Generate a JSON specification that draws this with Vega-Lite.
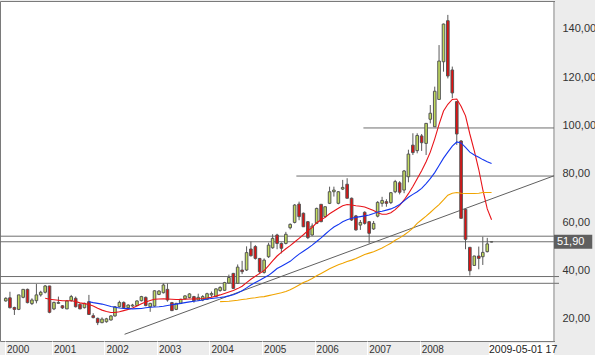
{
"$schema": "https://vega.github.io/schema/vega-lite/v6.json",
"width": 559, "height": 340,
"autosize": {"type": "none"},
"padding": {"left": 0, "top": 1, "right": 36, "bottom": 14},
"background": "#ececec",
"config": {"background": "#ececec", "view": {"fill": "white", "stroke": "#7a7a7a", "strokeWidth": 1}, "font": "Liberation Sans"},
"datasets": {
"k": [
{"d":"2000-02-15","o":27.4,"h":28.9,"l":27.1,"c":28.5},
{"d":"2000-03-15","o":28.7,"h":31.2,"l":24.3,"c":24.6},
{"d":"2000-04-15","o":24.7,"h":25.0,"l":21.6,"c":23.9},
{"d":"2000-05-15","o":23.9,"h":29.9,"l":23.6,"c":29.9},
{"d":"2000-06-15","o":28.9,"h":32.2,"l":28.5,"c":32.2},
{"d":"2000-07-15","o":32.2,"h":32.5,"l":26.4,"c":26.7},
{"d":"2000-08-15","o":26.3,"h":28.5,"l":25.7,"c":27.8},
{"d":"2000-09-15","o":27.5,"h":34.4,"l":26.4,"c":29.9},
{"d":"2000-10-15","o":29.9,"h":31.6,"l":29.2,"c":31.0},
{"d":"2000-11-15","o":31.0,"h":34.0,"l":30.5,"c":33.6,"ma10":28.5},
{"d":"2000-12-15","o":33.6,"h":33.6,"l":22.3,"c":22.7,"ma10":28.1},
{"d":"2001-01-15","o":24.1,"h":27.1,"l":23.6,"c":26.8,"ma10":27.9},
{"d":"2001-02-15","o":26.4,"h":29.2,"l":26.2,"c":26.8,"ma10":27.7},
{"d":"2001-03-15","o":25.4,"h":25.7,"l":24.1,"c":24.5,"ma10":27.5},
{"d":"2001-04-15","o":24.1,"h":27.8,"l":24.1,"c":27.4,"ma10":27.5},
{"d":"2001-05-15","o":27.5,"h":29.9,"l":27.1,"c":29.2,"ma10":27.5},
{"d":"2001-06-15","o":28.5,"h":29.2,"l":24.7,"c":25.0,"ma10":27.2},
{"d":"2001-07-15","o":26.0,"h":26.4,"l":24.1,"c":24.1,"ma10":26.6},
{"d":"2001-08-15","o":24.6,"h":26.7,"l":24.3,"c":26.4,"ma10":26.3},
{"d":"2001-09-15","o":27.1,"h":29.9,"l":21.6,"c":21.8,"ma10":25.9,"ma20":27.1},
{"d":"2001-10-15","o":21.3,"h":22.3,"l":20.2,"c":20.5,"ma10":25.3,"ma20":26.7},
{"d":"2001-11-15","o":20.2,"h":20.5,"l":17.4,"c":18.4,"ma10":24.4,"ma20":26.4},
{"d":"2001-12-15","o":18.4,"h":20.6,"l":18.2,"c":19.9,"ma10":23.6,"ma20":26.1},
{"d":"2002-01-15","o":18.8,"h":20.4,"l":18.4,"c":20.0,"ma10":23.0,"ma20":25.6},
{"d":"2002-02-15","o":19.5,"h":21.5,"l":19.3,"c":21.2,"ma10":22.6,"ma20":25.1},
{"d":"2002-03-15","o":21.2,"h":25.2,"l":20.9,"c":25.0,"ma10":22.6,"ma20":24.8},
{"d":"2002-04-15","o":25.0,"h":27.5,"l":24.7,"c":26.8,"ma10":22.9,"ma20":24.5},
{"d":"2002-05-15","o":26.8,"h":27.2,"l":24.3,"c":24.6,"ma10":23.4,"ma20":24.3},
{"d":"2002-06-15","o":24.6,"h":26.0,"l":24.3,"c":25.7,"ma10":23.9,"ma20":24.2},
{"d":"2002-07-15","o":25.3,"h":26.2,"l":25.0,"c":25.7,"ma10":24.5,"ma20":24.1},
{"d":"2002-08-15","o":25.5,"h":27.6,"l":25.3,"c":27.4,"ma10":25.3,"ma20":24.2},
{"d":"2002-09-15","o":27.5,"h":29.5,"l":27.2,"c":29.2,"ma10":26.2,"ma20":24.3},
{"d":"2002-10-15","o":28.9,"h":29.2,"l":25.2,"c":25.5,"ma10":27.0,"ma20":24.6},
{"d":"2002-11-15","o":25.0,"h":26.6,"l":22.9,"c":26.4,"ma10":27.6,"ma20":24.8},
{"d":"2002-12-15","o":25.3,"h":31.8,"l":25.0,"c":31.6,"ma10":28.1,"ma20":24.9},
{"d":"2003-01-15","o":30.1,"h":31.9,"l":29.8,"c":31.5,"ma10":28.2,"ma20":25.0},
{"d":"2003-02-15","o":30.8,"h":34.7,"l":30.5,"c":34.0,"ma10":28.3,"ma20":25.2},
{"d":"2003-03-15","o":32.2,"h":34.7,"l":27.1,"c":27.8,"ma10":28.2,"ma20":25.5},
{"d":"2003-04-15","o":26.7,"h":27.0,"l":23.2,"c":23.4,"ma10":28.1,"ma20":25.8},
{"d":"2003-05-15","o":23.9,"h":26.6,"l":23.6,"c":26.4,"ma10":28.0,"ma20":26.1},
{"d":"2003-06-15","o":26.4,"h":28.3,"l":26.1,"c":28.1,"ma10":28.0,"ma20":26.4},
{"d":"2003-07-15","o":28.3,"h":29.7,"l":28.0,"c":29.5,"ma10":28.1,"ma20":26.7},
{"d":"2003-08-15","o":28.8,"h":30.6,"l":28.5,"c":30.3,"ma10":28.2,"ma20":27.0},
{"d":"2003-09-15","o":29.2,"h":29.5,"l":26.7,"c":27.5,"ma10":28.2,"ma20":27.3},
{"d":"2003-10-15","o":27.8,"h":30.4,"l":27.5,"c":28.9,"ma10":28.3,"ma20":27.5},
{"d":"2003-11-15","o":27.8,"h":29.8,"l":27.3,"c":29.2,"ma10":28.4,"ma20":27.8},
{"d":"2003-12-15","o":28.1,"h":30.8,"l":27.8,"c":30.4,"ma10":28.6,"ma20":28.2},
{"d":"2004-01-15","o":29.9,"h":31.3,"l":29.0,"c":30.5,"ma10":28.9,"ma20":28.4},
{"d":"2004-02-15","o":29.2,"h":32.6,"l":29.0,"c":32.4,"ma10":29.4,"ma20":28.6},
{"d":"2004-03-15","o":31.7,"h":33.5,"l":31.2,"c":33.0,"ma10":29.9,"ma20":28.8,"ma50":27.1},
{"d":"2004-04-15","o":31.8,"h":35.3,"l":31.5,"c":35.0,"ma10":30.5,"ma20":29.1,"ma50":27.2},
{"d":"2004-05-15","o":34.8,"h":38.3,"l":34.5,"c":37.1,"ma10":31.1,"ma20":29.5,"ma50":27.3},
{"d":"2004-06-15","o":38.8,"h":39.0,"l":32.4,"c":32.6,"ma10":31.7,"ma20":30.0,"ma50":27.5},
{"d":"2004-07-15","o":34.7,"h":42.5,"l":34.5,"c":41.4,"ma10":32.5,"ma20":30.7,"ma50":27.7},
{"d":"2004-08-15","o":40.2,"h":44.0,"l":38.5,"c":39.5,"ma10":33.5,"ma20":31.6,"ma50":28.0},
{"d":"2004-09-15","o":40.2,"h":50.0,"l":39.8,"c":47.4,"ma10":35.0,"ma20":32.8,"ma50":28.2},
{"d":"2004-10-15","o":48.9,"h":52.0,"l":45.8,"c":46.1,"ma10":36.4,"ma20":34.0,"ma50":28.5},
{"d":"2004-11-15","o":49.9,"h":50.5,"l":44.5,"c":45.0,"ma10":37.6,"ma20":35.0,"ma50":28.7},
{"d":"2004-12-15","o":45.0,"h":45.2,"l":38.5,"c":39.5,"ma10":38.8,"ma20":36.0,"ma50":29.0},
{"d":"2005-01-15","o":39.2,"h":45.0,"l":38.7,"c":44.3,"ma10":40.0,"ma20":37.0,"ma50":29.2},
{"d":"2005-02-15","o":45.7,"h":51.5,"l":45.2,"c":50.5,"ma10":42.0,"ma20":38.0,"ma50":29.6},
{"d":"2005-03-15","o":49.4,"h":55.0,"l":49.0,"c":53.3,"ma10":44.0,"ma20":39.3,"ma50":30.0},
{"d":"2005-04-15","o":54.7,"h":55.2,"l":48.8,"c":51.2,"ma10":46.0,"ma20":40.8,"ma50":30.4},
{"d":"2005-05-15","o":51.2,"h":51.6,"l":47.1,"c":49.2,"ma10":47.5,"ma20":41.8,"ma50":30.8},
{"d":"2005-06-15","o":51.2,"h":56.0,"l":50.8,"c":55.0,"ma10":49.0,"ma20":42.8,"ma50":31.3},
{"d":"2005-07-15","o":57.7,"h":59.5,"l":57.0,"c":59.1,"ma10":50.3,"ma20":43.8,"ma50":32.0},
{"d":"2005-08-15","o":59.9,"h":67.5,"l":59.5,"c":67.1,"ma10":51.8,"ma20":45.3,"ma50":33.0},
{"d":"2005-09-15","o":67.5,"h":68.5,"l":60.8,"c":62.3,"ma10":53.3,"ma20":46.8,"ma50":34.0},
{"d":"2005-10-15","o":63.7,"h":64.0,"l":58.0,"c":58.1,"ma10":54.8,"ma20":48.0,"ma50":35.0},
{"d":"2005-11-15","o":60.2,"h":60.5,"l":53.0,"c":53.6,"ma10":56.5,"ma20":49.2,"ma50":35.8},
{"d":"2005-12-15","o":54.7,"h":59.5,"l":54.4,"c":58.4,"ma10":57.8,"ma20":50.5,"ma50":36.7},
{"d":"2006-01-15","o":59.5,"h":66.0,"l":59.2,"c":65.7,"ma10":59.8,"ma20":52.0,"ma50":37.8},
{"d":"2006-02-15","o":67.4,"h":67.4,"l":60.0,"c":60.2,"ma10":61.0,"ma20":53.5,"ma50":38.8},
{"d":"2006-03-15","o":62.3,"h":66.4,"l":61.9,"c":66.4,"ma10":62.0,"ma20":55.0,"ma50":39.7},
{"d":"2006-04-15","o":67.8,"h":74.7,"l":67.5,"c":72.6,"ma10":63.5,"ma20":56.6,"ma50":40.7},
{"d":"2006-05-15","o":72.6,"h":74.7,"l":70.6,"c":73.3,"ma10":64.6,"ma20":58.0,"ma50":41.6},
{"d":"2006-06-15","o":67.8,"h":72.9,"l":67.4,"c":72.6,"ma10":65.8,"ma20":59.0,"ma50":42.4},
{"d":"2006-07-15","o":73.7,"h":77.5,"l":73.3,"c":74.4,"ma10":66.8,"ma20":60.2,"ma50":43.0},
{"d":"2006-08-15","o":75.7,"h":78.2,"l":69.9,"c":69.9,"ma10":67.3,"ma20":61.0,"ma50":43.7},
{"d":"2006-09-15","o":69.9,"h":70.2,"l":60.5,"c":60.9,"ma10":67.1,"ma20":61.6,"ma50":44.3},
{"d":"2006-10-15","o":62.6,"h":63.0,"l":56.5,"c":56.8,"ma10":66.8,"ma20":62.0,"ma50":45.0},
{"d":"2006-11-15","o":58.8,"h":60.9,"l":56.8,"c":59.9,"ma10":66.6,"ma20":62.3,"ma50":45.8},
{"d":"2006-12-15","o":64.1,"h":64.5,"l":59.0,"c":59.5,"ma10":66.3,"ma20":62.6,"ma50":46.6},
{"d":"2007-01-15","o":60.2,"h":60.5,"l":51.2,"c":55.4,"ma10":65.6,"ma20":63.0,"ma50":47.2},
{"d":"2007-02-15","o":57.2,"h":60.5,"l":56.8,"c":59.5,"ma10":64.8,"ma20":63.6,"ma50":47.8},
{"d":"2007-03-15","o":62.5,"h":68.7,"l":62.0,"c":68.2,"ma10":63.9,"ma20":64.2,"ma50":48.5},
{"d":"2007-04-15","o":67.8,"h":70.5,"l":66.4,"c":69.0,"ma10":63.3,"ma20":64.5,"ma50":49.3},
{"d":"2007-05-15","o":68.5,"h":69.5,"l":66.4,"c":67.8,"ma10":63.3,"ma20":65.0,"ma50":50.3},
{"d":"2007-06-15","o":68.1,"h":72.5,"l":67.5,"c":72.2,"ma10":63.9,"ma20":65.5,"ma50":51.3},
{"d":"2007-07-15","o":72.6,"h":77.5,"l":72.0,"c":76.8,"ma10":65.2,"ma20":66.3,"ma50":52.5},
{"d":"2007-08-15","o":76.3,"h":77.0,"l":71.5,"c":72.4,"ma10":67.0,"ma20":67.3,"ma50":53.5},
{"d":"2007-09-15","o":73.3,"h":81.6,"l":72.0,"c":81.2,"ma10":69.2,"ma20":68.8,"ma50":54.7},
{"d":"2007-10-15","o":78.8,"h":90.0,"l":76.5,"c":88.2,"ma10":71.8,"ma20":70.3,"ma50":56.0},
{"d":"2007-11-15","o":91.9,"h":96.8,"l":87.8,"c":88.8,"ma10":74.8,"ma20":71.5,"ma50":57.5},
{"d":"2007-12-15","o":89.6,"h":96.8,"l":88.5,"c":95.9,"ma10":78.0,"ma20":72.6,"ma50":59.5},
{"d":"2008-01-15","o":95.7,"h":96.5,"l":89.5,"c":92.9,"ma10":81.3,"ma20":74.0,"ma50":61.0},
{"d":"2008-02-15","o":92.6,"h":101.0,"l":87.8,"c":100.9,"ma10":85.0,"ma20":76.0,"ma50":62.5},
{"d":"2008-03-15","o":102.6,"h":108.5,"l":100.9,"c":105.1,"ma10":89.0,"ma20":78.0,"ma50":64.0},
{"d":"2008-04-15","o":99.5,"h":116.1,"l":99.5,"c":114.2,"ma10":94.5,"ma20":80.5,"ma50":65.7},
{"d":"2008-05-15","o":110.8,"h":133.3,"l":110.6,"c":126.7,"ma10":100.5,"ma20":83.5,"ma50":67.3},
{"d":"2008-06-15","o":126.4,"h":142.2,"l":122.3,"c":142.0,"ma10":106.0,"ma20":86.5,"ma50":69.2},
{"d":"2008-07-15","o":143.4,"h":145.8,"l":119.5,"c":120.5,"ma10":108.8,"ma20":89.0,"ma50":71.2},
{"d":"2008-08-15","o":123.0,"h":124.4,"l":111.3,"c":113.5,"ma10":110.8,"ma20":91.5,"ma50":72.0},
{"d":"2008-09-15","o":109.9,"h":110.0,"l":92.0,"c":96.5,"ma10":111.0,"ma20":93.2,"ma50":72.3},
{"d":"2008-10-15","o":93.6,"h":94.0,"l":61.6,"c":61.6,"ma10":108.0,"ma20":92.8,"ma50":72.0},
{"d":"2008-11-15","o":65.3,"h":65.3,"l":48.8,"c":52.9,"ma10":104.0,"ma20":91.0,"ma50":71.9},
{"d":"2008-12-15","o":49.6,"h":49.6,"l":37.9,"c":39.9,"ma10":96.5,"ma20":89.0,"ma50":71.9},
{"d":"2009-01-15","o":42.1,"h":46.1,"l":41.9,"c":46.0,"ma10":89.5,"ma20":87.8,"ma50":71.9},
{"d":"2009-02-15","o":46.0,"h":49.9,"l":40.5,"c":45.0,"ma10":81.8,"ma20":86.9,"ma50":72.0},
{"d":"2009-03-15","o":45.7,"h":54.0,"l":42.3,"c":47.5,"ma10":73.5,"ma20":85.9,"ma50":72.3},
{"d":"2009-04-15","o":47.8,"h":53.5,"l":47.5,"c":51.0,"ma10":65.5,"ma20":85.0,"ma50":72.3},
{"d":"2009-05-15","o":51.8,"h":52.0,"l":51.7,"c":51.9,"ma10":61.0,"ma20":84.3,"ma50":72.3}
],
"full": [{"v":54.2},{"v":51.9},{"v":37.5},{"v":34.7}],
"part": [{"a":"2006-12-06","b":"2010-07-23","v":99.0},{"a":"2005-08-27","b":"2010-07-23","v":79.1}],
"trend": [{"d":"2002-05-21","v":13.6},{"d":"2010-07-23","v":79.2}]
},
"layer": [
{"data": {"values": [{}]},
 "mark": {"type": "rect", "fill": "#ececec", "clip": false},
 "encoding": {"x": {"datum": {"year": 2010, "month": 7, "date": 30, "utc": true}, "type": "temporal"},
   "x2": {"datum": {"year": 2011, "month": 4, "date": 15, "utc": true}},
   "y": {"datum": 5, "type": "quantitative"}, "y2": {"datum": 152}}},
{"data": {"values": [{}]},
 "mark": {"type": "rect", "fill": "#ececec", "clip": false},
 "encoding": {"x": {"datum": {"year": 2000, "month": 1, "date": 20, "utc": true}, "type": "temporal"},
   "x2": {"datum": {"year": 2011, "month": 4, "date": 15, "utc": true}},
   "y": {"datum": 10.4, "type": "quantitative"}, "y2": {"datum": 4.9}}},
{"data": {"name": "full"},
 "mark": {"type": "rule", "color": "#6e6e6e", "strokeWidth": 1},
 "encoding": {"y": {"field": "v", "type": "quantitative",
   "scale": {"domain": [10.82, 151.55], "nice": false, "zero": false},
   "axis": {"orient": "right", "values": [20,40,60,80,100,120,140], "zindex": 1,
     "labelExpr": "replace(format(datum.value, '.2f'), '.', ',')",
     "title": null, "domain": false, "grid": false, "ticks": false,
     "labelFont": "Liberation Sans", "labelFontSize": 11, "labelColor": "#333333",
     "labelPadding": 3, "labelOverlap": false, "labelFlush": false, "labelBaseline": "middle"}}}},
{"data": {"values": [{}]},
 "mark": {"type": "rule", "color": "#7a7a7a", "strokeWidth": 1},
 "encoding": {"x": {"datum": {"year": 2010, "month": 7, "date": 23, "utc": true}, "type": "temporal"}}},
{"data": {"name": "part"},
 "mark": {"type": "rule", "color": "#6e6e6e", "strokeWidth": 1},
 "encoding": {"x": {"field": "a", "type": "temporal"}, "x2": {"field": "b"},
   "y": {"field": "v", "type": "quantitative"}}},
{"data": {"name": "trend"},
 "mark": {"type": "line", "color": "#606060", "strokeWidth": 1},
 "encoding": {"x": {"field": "d", "type": "temporal"},
   "y": {"field": "v", "type": "quantitative"}}},
{"data": {"name": "k"},
 "mark": {"type": "rule", "color": "#5a5a5a", "strokeWidth": 1},
 "encoding": {"x": {"field": "d", "type": "temporal",
   "scale": {"type": "utc", "domain": [{"year": 2000, "month": 2, "date": 9, "hours": 16, "utc": true}, {"year": 2010, "month": 7, "date": 23, "utc": true}]},
   "axis": {"values": [{"year": 2000, "month": 2, "date": 10, "utc": true}, {"year": 2001, "month": 1, "date": 1, "utc": true}, {"year": 2002, "month": 1, "date": 1, "utc": true}, {"year": 2003, "month": 1, "date": 1, "utc": true}, {"year": 2004, "month": 1, "date": 1, "utc": true}, {"year": 2005, "month": 1, "date": 1, "utc": true}, {"year": 2006, "month": 1, "date": 1, "utc": true}, {"year": 2007, "month": 1, "date": 1, "utc": true}, {"year": 2008, "month": 1, "date": 1, "utc": true}],
     "labelExpr": "utcFormat(datum.value, '%Y')", "zindex": 1,
     "title": null, "domain": false, "grid": false,
     "tickColor": "#ffffff", "tickSize": 14, "tickWidth": 1,
     "labelAlign": "left", "labelBaseline": "top", "labelPadding": -11, "labelOffset": 1.5,
     "labelFont": "Liberation Sans", "labelFontSize": 10, "labelColor": "#333333",
     "labelFlush": false, "labelOverlap": false}},
   "y": {"field": "l", "type": "quantitative"}, "y2": {"field": "h"}}},
{"data": {"name": "k"},
 "mark": {"type": "bar", "width": 2.6, "stroke": "#555555", "strokeWidth": 1},
 "encoding": {"x": {"field": "d", "type": "temporal"},
   "y": {"field": "o", "type": "quantitative"}, "y2": {"field": "c"},
   "fill": {"condition": {"test": "datum.c >= datum.o", "value": "#c2dc5e"}, "value": "#e01010"}}},
{"data": {"name": "k"},
 "mark": {"type": "line", "color": "#e8141a", "strokeWidth": 1.1},
 "encoding": {"x": {"field": "d", "type": "temporal"},
   "y": {"field": "ma10", "type": "quantitative"}}},
{"data": {"name": "k"},
 "mark": {"type": "line", "color": "#1438f0", "strokeWidth": 1.1},
 "encoding": {"x": {"field": "d", "type": "temporal"},
   "y": {"field": "ma20", "type": "quantitative"}}},
{"data": {"name": "k"},
 "mark": {"type": "line", "color": "#f0a400", "strokeWidth": 1.1},
 "encoding": {"x": {"field": "d", "type": "temporal"},
   "y": {"field": "ma50", "type": "quantitative"}}},
{"data": {"values": [{}]},
 "mark": {"type": "rect", "fill": "#ffffff"},
 "encoding": {"x": {"datum": {"year": 2009, "month": 4, "date": 26, "utc": true}, "type": "temporal"},
   "x2": {"datum": {"year": 2010, "month": 7, "date": 23, "utc": true}},
   "y": {"datum": 9.9, "type": "quantitative"}, "y2": {"datum": 4.9}}},
{"data": {"values": [{}]},
 "mark": {"type": "text", "align": "left", "baseline": "middle", "font": "Liberation Sans", "fontSize": 10.5, "color": "#222222"},
 "encoding": {"x": {"datum": {"year": 2009, "month": 4, "date": 27, "utc": true}, "type": "temporal"},
   "y": {"datum": 7.3, "type": "quantitative"},
   "text": {"value": "2009-05-01 17"}}},
{"data": {"values": [{}]},
 "mark": {"type": "rect", "fill": "#5f5f5f"},
 "encoding": {"x": {"datum": {"year": 2010, "month": 7, "date": 23, "utc": true}, "type": "temporal"},
   "x2": {"datum": {"year": 2011, "month": 4, "date": 15, "utc": true}},
   "y": {"datum": 49.0, "type": "quantitative"}, "y2": {"datum": 54.8}}},
{"data": {"values": [{}]},
 "mark": {"type": "text", "align": "left", "baseline": "middle", "font": "Liberation Sans", "fontSize": 11, "color": "#ffffff"},
 "encoding": {"x": {"datum": {"year": 2010, "month": 8, "date": 12, "utc": true}, "type": "temporal"},
   "y": {"datum": 51.9, "type": "quantitative"},
   "text": {"value": "51,90"}}}
]
}
